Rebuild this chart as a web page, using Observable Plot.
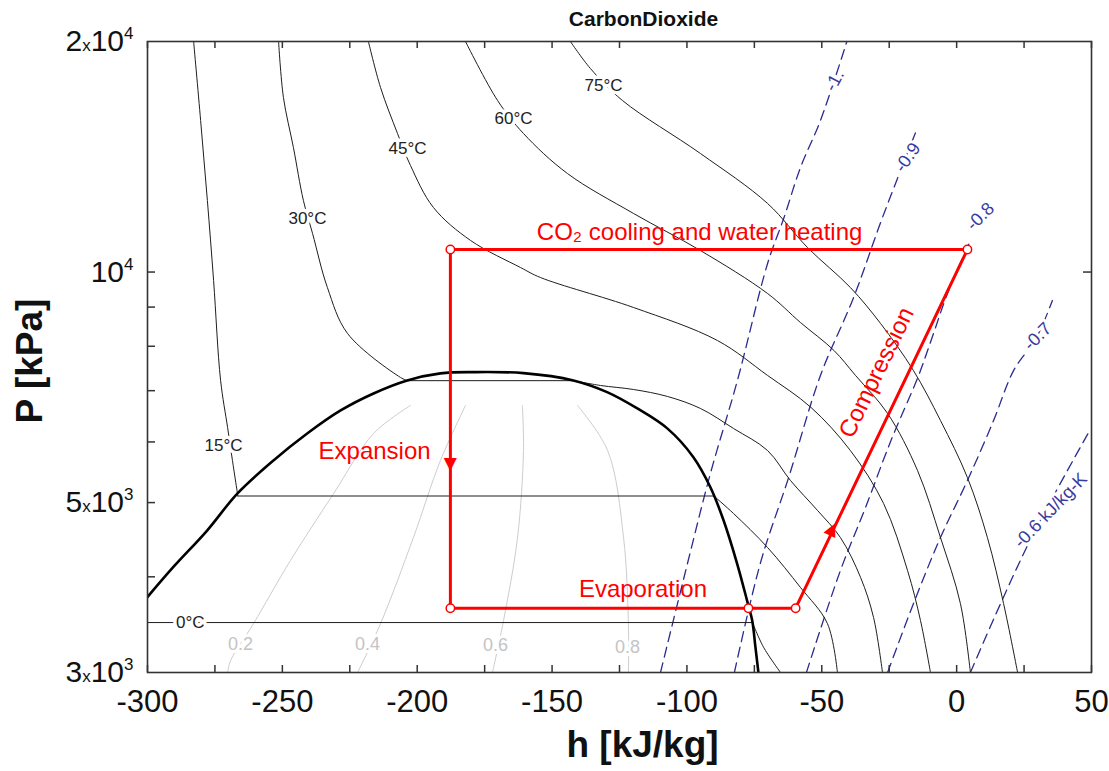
<!DOCTYPE html>
<html>
<head>
<meta charset="utf-8">
<script src="https://cdn.jsdelivr.net/npm/d3@7"></script>
<script src="https://cdn.jsdelivr.net/npm/@observablehq/plot@0.6"></script>
<style>
  html, body { margin: 0; padding: 0; background: #ffffff; }
  #chart { width: 1109px; height: 771px; }
</style>
</head>
<body>
<div id="chart"></div>
<script>
// ---------------- data (h in kJ/kg, P in kPa) ----------------
const xTicks = [-300, -250, -200, -150, -100, -50, 0, 50];
const xMinorTicks = [-300, -275, -250, -225, -200, -175, -150, -125, -100, -75, -50, -25, 0, 25, 50];
const yTicks = [3000, 5000, 10000, 20000];
const yTickMantissa = ["3", "5", "", "2"];
const yTickExponent = ["3", "3", "4", "4"];
const yMinorTicks = [4000, 5000, 6000, 7000, 8000, 9000, 10000];

// saturation dome
const domeH = [-300.1, -290.4, -277.9, -266.7, -253.3, -240.8, -228.4, -216.2, -203.7, -191.4, -179.1, -160.6, -142.1, -129.6, -118.4, -107.3, -97.6, -91.3, -86.4, -81.4, -77.7, -75.8, -74.6, -73.5];
const domeP = [3761, 4120, 4597, 5137, 5675, 6154, 6596, 6942, 7219, 7373, 7402, 7380, 7219, 6970, 6636, 6250, 5732, 5236, 4738, 4163, 3724, 3507, 3237, 3000];

// isotherms
const t0H = [-300, -75.7, -71.6, -65.3];
const t0P = [3486, 3486, 3237, 3000];
const t15H = [-282.9, -280.3, -277.8, -275.5, -272.9, -270.3, -268.5, -266.5, -90.0, -82.7, -70.1, -57.9, -47.9, -44.2];
const t15P = [20000, 15770, 12400, 9750, 7220, 6266, 5674, 5100, 5100, 4838, 4368, 3874, 3475, 3000];
const t30H = [-251.4, -249.6, -245.9, -242.2, -238.8, -233.3, -225.8, -206.2, -203.6, -142.1, -132.0, -119.8, -107.2, -95.0, -82.7, -70.1, -61.6, -51.6, -43.1, -35.6, -30.8, -27.5];
const t30P = [20000, 16900, 14542, 12400, 11228, 9546, 8311, 7284, 7214, 7214, 7110, 7025, 6879, 6636, 6247, 5847, 5343, 4884, 4502, 3991, 3539, 3000];
const t45H = [-218.1, -213.6, -207.3, -202.5, -194.0, -180.2, -161.7, -154.3, -119.8, -88.7, -70.1, -54.0, -39.4, -27.1, -18.2, -13.4, -9.7];
const t45P = [20000, 17415, 15167, 13776, 12143, 10995, 10137, 9837, 8989, 8140, 7328, 6656, 5847, 4988, 4076, 3507, 3000];
const t60H = [-182.1, -170.2, -160.6, -144.3, -119.8, -95.0, -70.1, -57.9, -45.5, -37.5, -25.6, -14.5, -6.0, 1.4, 5.1];
const t60P = [20000, 16749, 15167, 13448, 11926, 10669, 9375, 8592, 7900, 7328, 6537, 5506, 4502, 3691, 3000];
const t75H = [-143.2, -135.8, -123.9, -95.0, -70.1, -55.3, -39.4, -28.2, -16.0, -6.0, 4.0, 11.4, 17.4, 22.6];
const t75P = [20000, 18444, 16749, 14283, 12290, 10766, 9546, 8566, 7435, 6400, 5391, 4502, 3691, 3000];

// quality lines
const q2H = [-202.5, -216.2, -231.0, -247.0, -260.7, -269.2, -270.3];
const q2P = [6696, 6154, 5137, 4201, 3475, 3109, 3000];
const q4H = [-182.1, -191.4, -201.4, -213.6, -222.1];
const q4P = [6696, 5674, 4502, 3475, 3000];
const q6H = [-161.0, -160.6, -162.8, -168.0, -172.1];
const q6P = [6696, 5847, 4502, 3507, 3000];
const q8H = [-140.6, -129.4, -123.5, -121.7, -121.7];
const q8P = [6696, 5847, 4502, 3475, 3000];

// isentropes (kJ/kg-K)
const s10H = [-109.8, -99.8, -91.3, -81.3, -70.1, -64.0, -57.9, -50.5, -40.7];
const s10P = [3000, 4163, 5457, 7214, 10259, 11782, 13693, 15770, 20000];
const s09H = [-82.4, -72.7, -62.3, -50.5, -38.2, -27.5, -14.5];
const s09P = [3000, 4176, 5391, 7328, 9263, 11782, 15443];
const s08H = [-55.7, -43.1, -34.2, -24.2, -14.1, -8.6, -3.4, 5.1];
const s08P = [3000, 4076, 4884, 6044, 7328, 8311, 9375, 10995];
const s07H = [-25.6, -16.0, -6.0, 4.0, 13.7, 21.1, 29.6, 35.5];
const s07P = [3000, 3691, 4502, 5343, 6400, 7435, 8213, 9180];
const s06H = [5.1, 16.3, 28.5, 48.9];
const s06P = [3000, 3691, 4556, 6171];

// labels
const isothermLabels = ["0°C", "15°C", "30°C", "45°C", "60°C", "75°C"];
const isothermLabelH = [-284.1, -271.8, -240.7, -203.6, -164.3, -130.9];
const isothermLabelP = [3486, 5935, 11747, 14498, 15867, 17520];
const qualityLabels = ["0.2", "0.4", "0.6", "0.8"];
const qualityLabelH = [-265.5, -218.4, -171.0, -122.0];
const qualityLabelP = [3265, 3265, 3253, 3234];
const isentropeLabels = ["-1.", "-0.9", "-0.8", "-0.7", "-0.6 kJ/kg-K"];
const isentropeLabelH = [-45.3, -18.2, 8.8, 30.0, 34.8];
const isentropeLabelP = [17787, 14110, 11817, 8238, 4884];

// refrigeration cycle
const cycleH = [-187.7, -187.7, 4.0, -59.7, -77.2, -187.7];
const cycleP = [3640, 10700, 10700, 3640, 3640, 3640];
const stateH = [-187.7, 4.0, -59.7, -77.2, -187.7];
const stateP = [10700, 10700, 3640, 3640, 3640];
const processLabels = ["CO₂ cooling and water heating", "Expansion", "Evaporation", "Compression"];
const processLabelH = [-95.3, -215.8, -116.3, -29.7];
const processLabelP = [11262, 5829, 3850, 7393];
const arrowH = [-187.7, -45.9];
const arrowP = [5623, 4625];

// ---------------- build ----------------
const rows = (hs, ps, key) => hs.map((h, i) => ({h, P: ps[i], key}));
// split an isotherm into curved pieces and flat (two-phase) pieces
function splitIsotherm(hs, ps, key) {
  const curved = [], flat = [];
  let seg = 0, cur = [];
  const flush = () => { if (cur.length > 1) cur.forEach(p => curved.push({...p, key: key + "_" + seg})); seg++; cur = []; };
  for (let i = 0; i < hs.length; i++) {
    const p = {h: hs[i], P: ps[i]};
    if (i < hs.length - 1 && ps[i] === ps[i + 1]) {
      cur.push(p); flush();
      flat.push({h: hs[i], P: ps[i], key: key + "_f"}, {h: hs[i + 1], P: ps[i + 1], key: key + "_f"});
    } else {
      cur.push(p);
    }
  }
  flush();
  return {curved, flat};
}
const isoSets = [[t0H, t0P, "0"], [t15H, t15P, "15"], [t30H, t30P, "30"], [t45H, t45P, "45"], [t60H, t60P, "60"], [t75H, t75P, "75"]]
  .map(([hs, ps, k]) => splitIsotherm(hs, ps, k));
const isoCurved = isoSets.flatMap(s => s.curved);
const isoFlat = isoSets.flatMap(s => s.flat);

const qualities = [...rows(q2H, q2P, "0.2"), ...rows(q4H, q4P, "0.4"), ...rows(q6H, q6P, "0.6"), ...rows(q8H, q8P, "0.8")];
const isentropes = [...rows(s10H, s10P, "-1"), ...rows(s09H, s09P, "-0.9"), ...rows(s08H, s08P, "-0.8"), ...rows(s07H, s07P, "-0.7"), ...rows(s06H, s06P, "-0.6")];
const dome = rows(domeH, domeP, "dome");
const cycle = rows(cycleH, cycleP, "cycle");
const states = rows(stateH, stateP, "s");
const tLabels = isothermLabels.map((t, i) => ({t, h: isothermLabelH[i], P: isothermLabelP[i]}));
const qLabels = qualityLabels.map((t, i) => ({t, h: qualityLabelH[i], P: qualityLabelP[i]}));
const sLabels = isentropeLabels.map((t, i) => ({t, h: isentropeLabelH[i], P: isentropeLabelP[i]}));
const pLabels = processLabels.map((t, i) => ({t, h: processLabelH[i], P: processLabelP[i]}));

const W = 1109, H = 771;
const mTop = 41, mRight = 18, mBottom = 99, mLeft = 147;
const plotW = W - mLeft - mRight;
const plotH = H - mTop - mBottom;
const FONT = "'Liberation Sans', Arial, Helvetica, sans-serif";
const NAVY = "#2b2b8f";
const RED = "#ff0000";
const sRot = [-62, -55, -45, -45, -46];
const smooth = "catmull-rom";

const chart = Plot.plot({
  width: W, height: H,
  marginTop: mTop, marginRight: mRight, marginBottom: mBottom, marginLeft: mLeft,
  style: {fontFamily: FONT, background: "#ffffff", overflow: "visible"},
  x: {domain: [-300, 50]},
  y: {type: "log", domain: [3000, 20000]},
  marks: [
    Plot.line(qualities, {x: "h", y: "P", z: "key", stroke: "#cdcdcd", strokeWidth: 1, curve: smooth, clip: true}),
    Plot.line(isentropes, {x: "h", y: "P", z: "key", stroke: NAVY, strokeWidth: 1.3, strokeDasharray: "10,6", curve: smooth, clip: true}),
    Plot.line(isoCurved, {x: "h", y: "P", z: "key", stroke: "#1e1e1e", strokeWidth: 1, curve: smooth, clip: true}),
    Plot.line(isoFlat, {x: "h", y: "P", z: "key", stroke: "#1e1e1e", strokeWidth: 1, curve: "linear", clip: true}),
    Plot.line(dome, {x: "h", y: "P", stroke: "#000000", strokeWidth: 2.6, curve: smooth, clip: true}),
    Plot.text(qLabels, {x: "h", y: "P", text: "t", fill: "#c4c4c4", fontSize: 18, stroke: "white", strokeWidth: 6, paintOrder: "stroke"}),
    Plot.text(tLabels, {x: "h", y: "P", text: "t", fill: "#222222", fontSize: 17, stroke: "white", strokeWidth: 7, paintOrder: "stroke"}),
    ...sLabels.map((d, i) => Plot.text([d], {x: "h", y: "P", text: "t", fill: "#3a3aa0", fontSize: 18, rotate: sRot[i], stroke: "white", strokeWidth: 6, paintOrder: "stroke"})),
    // frame & ticks
    Plot.frame({stroke: "#333333", strokeWidth: 1.6}),
    Plot.ruleX(xMinorTicks, {x: d => d, stroke: "#333333", strokeWidth: 1.5, insetTop: plotH - 7}),
    Plot.ruleX(xMinorTicks, {x: d => d, stroke: "#333333", strokeWidth: 1.5, insetBottom: plotH - 7}),
    Plot.ruleY(yMinorTicks, {y: d => d, stroke: "#333333", strokeWidth: 1.5, insetRight: plotW - 8}),
    Plot.ruleY([10000], {y: d => d, stroke: "#333333", strokeWidth: 1.5, insetLeft: plotW - 8}),
    Plot.axisX({ticks: xTicks, tickSize: 0, tickPadding: 17, fontSize: 31, tickFormat: d => String(d), label: null, fill: "#111"}),
    Plot.axisY({ticks: yTicks, tickSize: 0, tickPadding: 14, fontSize: 30, label: null, fill: "#111",
      tickFormat: d => { const i = yTicks.indexOf(d); return yTickMantissa[i] + "|" + yTickExponent[i]; }}),
    // cycle
    Plot.line(cycle, {x: "h", y: "P", stroke: RED, strokeWidth: 3, curve: "linear"}),
    Plot.dot(states, {x: "h", y: "P", r: 4.2, fill: "white", stroke: RED, strokeWidth: 1.5}),
    Plot.text([0], {x: arrowH[0], y: arrowP[0], text: () => "▼", fill: RED, fontSize: 17, fontFamily: "DejaVu Sans"}),
    Plot.text([0], {x: arrowH[1], y: arrowP[1], text: () => "▲", fill: RED, fontSize: 17, rotate: 26, fontFamily: "DejaVu Sans"}),
    Plot.text(pLabels.slice(0, 3), {x: "h", y: "P", text: "t", fill: RED, fontSize: 24}),
    Plot.text(pLabels.slice(3), {x: "h", y: "P", text: "t", fill: RED, fontSize: 24, rotate: -64}),
    // titles
    Plot.text(["CarbonDioxide"], {text: d => d, frameAnchor: "top", dy: -22, dx: 24, fontSize: 21, fontWeight: "bold", fill: "#111", textAnchor: "middle", lineAnchor: "middle"}),
    Plot.text(["h [kJ/kg]"], {text: d => d, frameAnchor: "bottom", dy: 73, dx: 23, fontSize: 37, fontWeight: "bold", fill: "#111", textAnchor: "middle", lineAnchor: "middle"}),
    Plot.text(["P [kPa]"], {text: d => d, frameAnchor: "left", dx: -117, dy: 4, rotate: -90, fontSize: 37, fontWeight: "bold", fill: "#111", textAnchor: "middle", lineAnchor: "middle"})
  ]
});

document.getElementById("chart").appendChild(chart);

// rich y tick labels: mantissa x 10^exponent
const svgEl = chart.tagName.toLowerCase() === "svg" ? chart : chart.querySelector("svg");
const NS = "http://www.w3.org/2000/svg";
svgEl.querySelectorAll('[aria-label="y-axis tick label"] text').forEach(t => {
  const s = t.textContent;
  if (s.indexOf("|") < 0) return;
  const [m, e] = s.split("|");
  while (t.firstChild) t.removeChild(t.firstChild);
  const add = (str, size, dy) => {
    const ts = document.createElementNS(NS, "tspan");
    ts.textContent = str;
    ts.setAttribute("font-size", size);
    if (dy) ts.setAttribute("dy", dy);
    t.appendChild(ts);
  };
  if (m) { add(m, 30); add("x", 17); }
  add("10", 30);
  add(e, 17, "-12");
});
</script>
</body>
</html>
